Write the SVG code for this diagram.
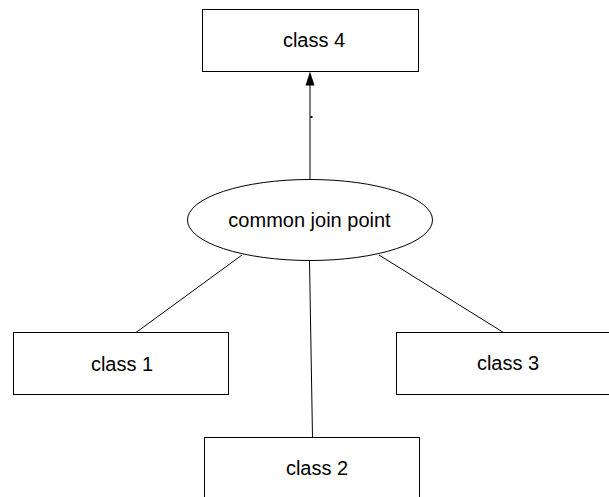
<svg xmlns="http://www.w3.org/2000/svg" width="609" height="497" viewBox="0 0 609 497">
<style>
  .box { fill: #ffffff; stroke: #000000; stroke-width: 1; }
  .lbl { font-family: "Liberation Sans", Arial, sans-serif; font-size: 20px; fill: #000000; text-anchor: middle; }
  .edge { stroke: #000000; stroke-width: 1; fill: none; }
</style>
<defs>
  <marker id="arrow" markerWidth="10" markerHeight="14" refX="5" refY="14" orient="auto-start-reverse" markerUnits="userSpaceOnUse" viewBox="0 0 10 14">
    <path d="M0,14 L5,0 L10,14 Z" fill="#000000"/>
  </marker>
</defs>
<rect width="609" height="497" fill="#ffffff"/>
<g id="connectors">
  <line class="edge" x1="310" y1="179.5" x2="310" y2="85"/>
  <path d="M310,71.5 L305.5,85.5 L314.5,85.5 Z" fill="#000000"/>
  <rect x="310.5" y="116" width="2" height="2" fill="#000000"/>
  <line class="edge" x1="242" y1="255" x2="136" y2="332.5"/>
  <line class="edge" x1="379" y1="255" x2="503.5" y2="332.5"/>
  <line class="edge" x1="309.5" y1="260.5" x2="312.5" y2="437.5"/>
</g>
<g id="class4">
  <rect class="box" x="202.5" y="9.5" width="216" height="62"/>
  <text class="lbl" x="314" y="47">class 4</text>
</g>
<g id="joinpoint">
  <ellipse class="box" cx="310" cy="220" rx="122.5" ry="40.5"/>
  <text class="lbl" x="309.5" y="227">common join point</text>
</g>
<g id="class1">
  <rect class="box" x="13.5" y="332.5" width="215" height="62"/>
  <text class="lbl" x="122" y="371">class 1</text>
</g>
<g id="class3">
  <rect class="box" x="396.5" y="332.5" width="216" height="62"/>
  <text class="lbl" x="508" y="370">class 3</text>
</g>
<g id="class2">
  <rect class="box" x="204.5" y="437.5" width="215" height="62"/>
  <text class="lbl" x="317" y="475">class 2</text>
</g>
</svg>
